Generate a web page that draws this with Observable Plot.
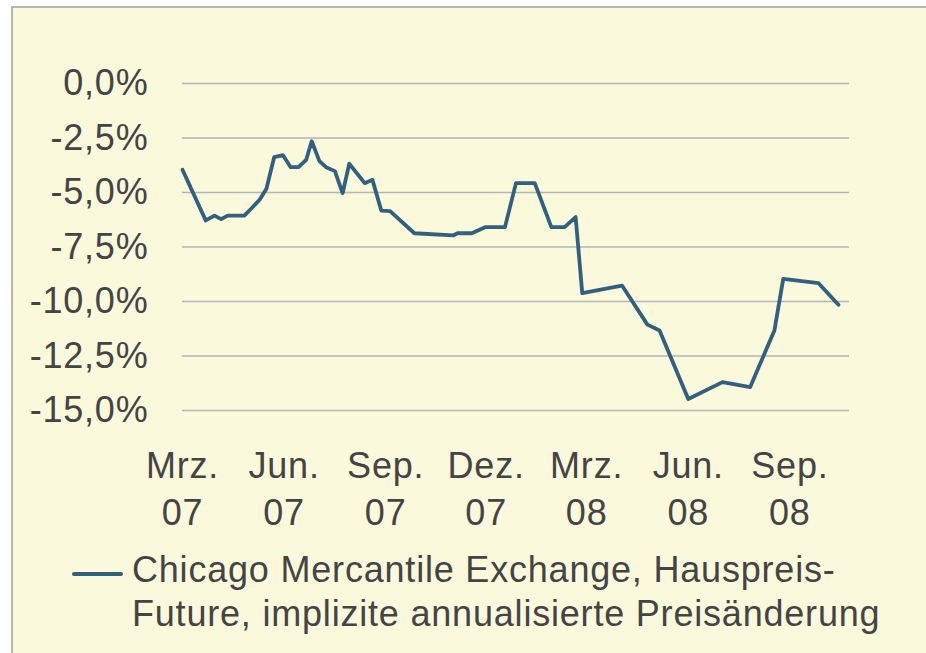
<!DOCTYPE html>
<html>
<head>
<meta charset="utf-8">
<script src="https://cdn.jsdelivr.net/npm/d3@7"></script>
<script src="https://cdn.jsdelivr.net/npm/@observablehq/plot@0.6"></script>
<style>
  html, body { margin: 0; padding: 0; background: #ffffff; }
  #wrap { position: relative; width: 926px; height: 653px; overflow: hidden; background: #ffffff; }
  #bg { position: absolute; left: 11px; top: 6px; width: 1000px; height: 800px;
        background: #FAF9DC; border-left: 2px solid #b6b6b6; border-top: 2px solid #b6b6b6; }
  #chart { position: absolute; left: 0; top: 0; }
  #legend { position: absolute; left: 0; top: 0; width: 926px; height: 653px; pointer-events: none; }
  .leg { position: absolute; font-family: "Liberation Sans", Arial, sans-serif; font-size: 36px;
         letter-spacing: 0.8px; color: #444444; white-space: nowrap; line-height: 44px; }
  .sw { position: absolute; left: 72px; top: 572px; width: 51px; height: 4px; background: #32607F; border-radius: 2px; }
</style>
</head>
<body>
<div id="wrap">
  <div id="bg"></div>
  <div id="chart"></div>
  <div id="legend"></div>
</div>
<script>
// Series: dates and values (% implied annualized price change)
const dates = [
  "2007-03-01","2007-03-22","2007-03-30","2007-04-05","2007-04-11","2007-04-26",
  "2007-05-03","2007-05-10","2007-05-16","2007-05-23","2007-05-31","2007-06-07",
  "2007-06-14","2007-06-21","2007-06-26","2007-07-03","2007-07-09","2007-07-17",
  "2007-07-24","2007-07-30","2007-08-13","2007-08-20","2007-08-28","2007-09-05",
  "2007-09-27","2007-11-01","2007-11-05","2007-11-18","2007-11-30","2007-12-18",
  "2007-12-28","2008-01-14","2008-01-29","2008-02-10","2008-02-20","2008-02-26",
  "2008-04-02","2008-04-25","2008-05-06","2008-06-01","2008-07-02","2008-07-27",
  "2008-08-18","2008-08-26","2008-09-27","2008-10-15"
];
const values = [
  -3.96, -6.28, -6.06, -6.22, -6.06, -6.06,
  -5.70, -5.32, -4.83, -3.38, -3.29, -3.84,
  -3.84, -3.50, -2.65, -3.56, -3.84, -4.02,
  -5.03, -3.68, -4.57, -4.42, -5.83, -5.85,
  -6.87, -6.97, -6.87, -6.87, -6.59, -6.59,
  -4.57, -4.57, -6.59, -6.59, -6.13, -9.62,
  -9.27, -11.06, -11.33, -14.47, -13.70, -13.93,
  -11.33, -8.96, -9.16, -10.15
];
// Axis ticks
const yTicks = [0, -2.5, -5, -7.5, -10, -12.5, -15];
const xTickDates = ["2007-03-01","2007-06-01","2007-09-01","2007-12-01","2008-03-01","2008-06-01","2008-09-01"];
const xTickMonths = ["Mrz.","Jun.","Sep.","Dez.","Mrz.","Jun.","Sep."];
const xTickYears = ["07","07","07","07","08","08","08"];
const xDomain = ["2007-03-01","2008-10-25"];
const seriesName = ["Chicago Mercantile Exchange, Hauspreis-", "Future, implizite annualisierte Preisänderung"];

const parse = d3.utcParse("%Y-%m-%d");
const data = dates.map((d, i) => ({date: parse(d), value: values[i]}));
const tickD = xTickDates.map(parse);
const idx = d => tickD.findIndex(t => +t === +d);
const yFmt = d => d.toFixed(1).replace(".", ",") + "%";

const lineColor = "#32607F";

const chart = Plot.plot({
  width: 926,
  height: 653,
  marginLeft: 182,
  marginRight: 77,
  marginTop: 83,
  marginBottom: 243,
  style: {
    background: "transparent",
    fontFamily: "'Liberation Sans', Arial, sans-serif",
    fontSize: "36px",
    letterSpacing: "0.8px",
    color: "#444444",
    overflow: "visible"
  },
  x: {type: "utc", domain: xDomain.map(parse)},
  y: {domain: [-15, 0]},
  marks: [
    Plot.ruleY(yTicks, {stroke: "#b4b4b4", strokeWidth: 1.3}),
    Plot.axisY({ticks: yTicks, tickFormat: yFmt, tickSize: 0, tickPadding: 34, label: null}),
    Plot.axisX({ticks: tickD, tickFormat: d => xTickMonths[idx(d)], tickSize: 0, tickPadding: 42, label: null}),
    Plot.axisX({ticks: tickD, tickFormat: d => xTickYears[idx(d)], tickSize: 0, tickPadding: 89, label: null}),
    Plot.line(data, {x: "date", y: "value", stroke: lineColor, strokeWidth: 3.8})
  ]
});
document.getElementById("chart").appendChild(chart);

// Legend
const leg = document.getElementById("legend");
const sw = document.createElement("div");
sw.className = "sw";
sw.style.background = lineColor;
leg.appendChild(sw);
const t = document.createElement("div");
t.className = "leg";
t.style.left = "132px";
t.style.top = "548px";
t.innerHTML = seriesName.join("<br>");
leg.appendChild(t);
</script>
</body>
</html>
